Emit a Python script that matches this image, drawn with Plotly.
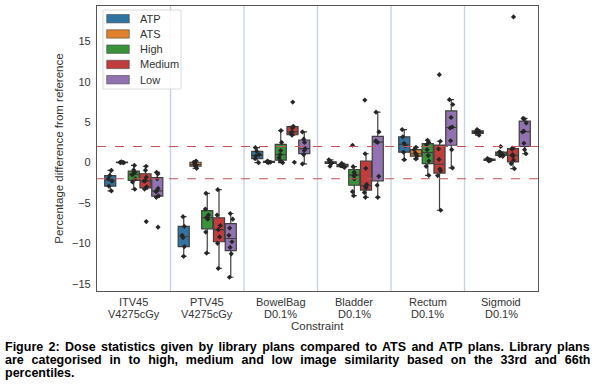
import plotly.graph_objects as go

categories = ["ITV45<br>V4275cGy", "PTV45<br>V4275cGy", "BowelBag<br>D0.1%",
              "Bladder<br>D0.1%", "Rectum<br>D0.1%", "Sigmoid<br>D0.1%"]
hues = ["ATP", "ATS", "High", "Medium", "Low"]

ATP = [
    [-0.95, -1.6, -2.0, -2.3, -2.9, -3.5],
    [-6.7, -7.9, -9.0, -9.3, -10.4, -11.6],
    [1.86, 1.4, 1.0, 0.8, 0.5, 0.0],
    [0.35, 0.1, 0.0, -0.05, -0.1, -0.45],
    [4.1, 3.2, 2.4, 2.1, 1.3, 0.37],
    [4.1, 3.9, 3.8, 3.7, 3.4],
]
ATS = [
    [0.1, 0.05, 0.0, 0.0, 0.0],
    [0.2, 0.05, -0.2, -0.3, -0.45, -0.7],
    [0.2, 0.1, 0.05, 0.0],
    [-0.1, -0.3, -0.4, -0.6],
    [1.9, 1.6, 1.2, 1.0, 0.8, 0.46],
    [0.5, 0.4, 0.33, 0.3, 0.2],
]
High = [
    [-0.35, -0.9, -1.2, -1.4, -1.5, -2.0, -2.4, -3.3],
    [-3.8, -5.75, -6.5, -6.8, -7.0, -8.6, -11.2],
    [3.97, 2.5, 1.5, 1.0, 0.6, 0.2, 0.0],
    [2.15, -0.5, -1.2, -1.5, -1.6, -2.0, -3.6, -4.1],
    [2.77, 2.5, 2.2, 1.6, 0.87, 0.2, -0.46, -1.58],
    [2.0, 1.35, 1.2, 1.1, 1.0, 0.86, 0.78],
]
Medium = [
    [-0.45, -0.95, -1.8, -2.2, -2.3, -3.0, -3.27, -7.3],
    [-3.35, -6.5, -7.8, -8.3, -9.2, -10.0, -13.1],
    [7.5, 4.5, 4.3, 3.8, 3.6, 3.4, 0.05],
    [7.75, 1.1, -0.7, -2.7, -3.0, -3.1, -3.7, -4.3],
    [10.9, 2.65, 1.7, 0.4, -0.8, -1.0, -1.6, -5.9],
    [18.05, 1.8, 1.66, 1.0, 0.8, 0.3, -0.12, -0.75],
]
Low = [
    [-1.2, -1.4, -2.0, -3.2, -3.5, -3.6, -4.1, -4.3, -8.0],
    [-6.3, -7.0, -8.1, -9.0, -9.8, -10.5, -11.3, -14.2],
    [3.8, 2.9, 2.5, 1.74, 1.5, 1.0, -0.16],
    [6.25, 3.8, 2.7, 2.6, 2.5, -1.7, -2.8, -4.3],
    [7.8, 7.2, 5.6, 4.4, 4.3, 2.7, 1.6, -0.66],
    [5.47, 5.4, 4.9, 3.9, 3.8, 2.4, 1.6, 1.1],
]
series = [ATP, ATS, High, Medium, Low]
colors = ["#3274a1", "#e1812c", "#3a923a", "#c03d3e", "#9372b2"]

caption_lines = [
    "Figure 2: Dose statistics given by library plans compared to ATS and ATP plans. Library plans",
    "are categorised in to high, medium and low image similarity based on the 33rd and 66th",
    "percentiles.",
]
caption_word_spacing = [1.9, 4.35, 0]

font_family = "Liberation Sans, Arial, sans-serif"
W, H = 600, 384
ML, MR, MT, MB = 97, 62, 6, 93
PW, PH = W - ML - MR, H - MT - MB


def px(x):
    return (x - ML) / PW


def py(y):
    return (H - MB - y) / PH


fig = go.Figure()
for name, data, col in zip(hues, series, colors):
    xs, ys = [], []
    for cat, vals in zip(categories, data):
        xs += [cat] * len(vals)
        ys += vals
    fig.add_trace(go.Box(
        x=xs, y=ys, name=name, fillcolor=col, showlegend=False,
        line=dict(color="#3f3f3f", width=1.2),
        marker=dict(color="#262626", size=4, symbol="diamond"),
        boxpoints="all", jitter=0.4, pointpos=0,
        quartilemethod="linear", whiskerwidth=0.5,
    ))

shapes = []
for i in range(len(categories) - 1):
    shapes.append(dict(type="line", xref="x", yref="paper", x0=i + 0.5, x1=i + 0.5,
                       y0=0, y1=1, line=dict(color="#c5cfe6", width=1.3), layer="below"))
for yv in (2, -2):
    shapes.append(dict(type="line", xref="paper", yref="y", x0=0, x1=1, y0=yv, y1=yv,
                       line=dict(color="#c8555a", width=1.1, dash="dash"), layer="above"))

annotations = []
# category tick labels (two tight lines each)
for cat in categories:
    for j, part in enumerate(cat.split("<br>")):
        annotations.append(dict(text=part, xref="x", yref="paper", x=cat, y=py(302 + 11.5 * j),
                                xanchor="center", yanchor="middle", showarrow=False,
                                font=dict(size=11, color="#333333")))
# legend box
shapes.append(dict(type="rect", xref="paper", yref="paper", x0=px(103), x1=px(181),
                   y0=py(89), y1=py(10), fillcolor="rgba(255,255,255,0.85)",
                   line=dict(color="#dcdcdc", width=1), layer="above"))
for k, (name, col) in enumerate(zip(hues, colors)):
    yc = 18.7 + 15.25 * k
    shapes.append(dict(type="rect", xref="paper", yref="paper", x0=px(106.7), x1=px(129.3),
                       y0=py(yc + 4.2), y1=py(yc - 4.2), fillcolor=col,
                       line=dict(color="#4a4a4a", width=0.6), layer="above"))
    annotations.append(dict(text=name, xref="paper", yref="paper", x=px(137.5), y=py(yc),
                            xanchor="left", yanchor="middle", showarrow=False,
                            font=dict(size=11, color="#333333")))

# x axis title
annotations.append(dict(text="Constraint", xref="paper", yref="paper", x=0.5, y=py(325.5),
                        xanchor="center", yanchor="middle", showarrow=False,
                        font=dict(size=11.5, color="#333333")))
# caption
for k, (line, ws) in enumerate(zip(caption_lines, caption_word_spacing)):
    text = "<b>" + line + "</b>"
    if ws:
        text = "<span style='word-spacing:%.2fpx'>%s</span>" % (ws, text)
    annotations.append(dict(text=text, xref="paper", yref="paper",
                            x=px(3), y=py(346.7 + 13.3 * k), xanchor="left", yanchor="middle",
                            showarrow=False,
                            font=dict(family=font_family, size=12.5, color="black")))

fig.update_layout(
    width=W, height=H,
    margin=dict(l=ML, r=MR, t=MT, b=MB),
    paper_bgcolor="white", plot_bgcolor="white",
    boxmode="group", boxgap=0.2, boxgroupgap=0.06,
    font=dict(family=font_family, size=11, color="#333333"),
    shapes=shapes, annotations=annotations, showlegend=False,
)
fig.update_xaxes(
    categoryorder="array", categoryarray=categories, range=[-0.5, 5.5],
    showline=True, mirror=True, linecolor="#555555", linewidth=1.2,
    showgrid=False, ticks="", showticklabels=False,
)
fig.update_yaxes(
    range=[-15.9, 19.4], tickvals=[-15, -10, -5, 0, 5, 10, 15],
    ticktext=["\u221215", "\u221210", "\u22125", "0", "5", "10", "15"],
    showline=True, mirror=True, linecolor="#555555", linewidth=1.2,
    showgrid=False, zeroline=False, ticks="outside", ticklen=3, tickcolor="white",
    title=dict(text="Percentage difference from reference", standoff=6, font=dict(size=11.5)),
)

fig.write_html("out.html", config={"displayModeBar": False},
               post_script="document.body.style.margin='0';")
